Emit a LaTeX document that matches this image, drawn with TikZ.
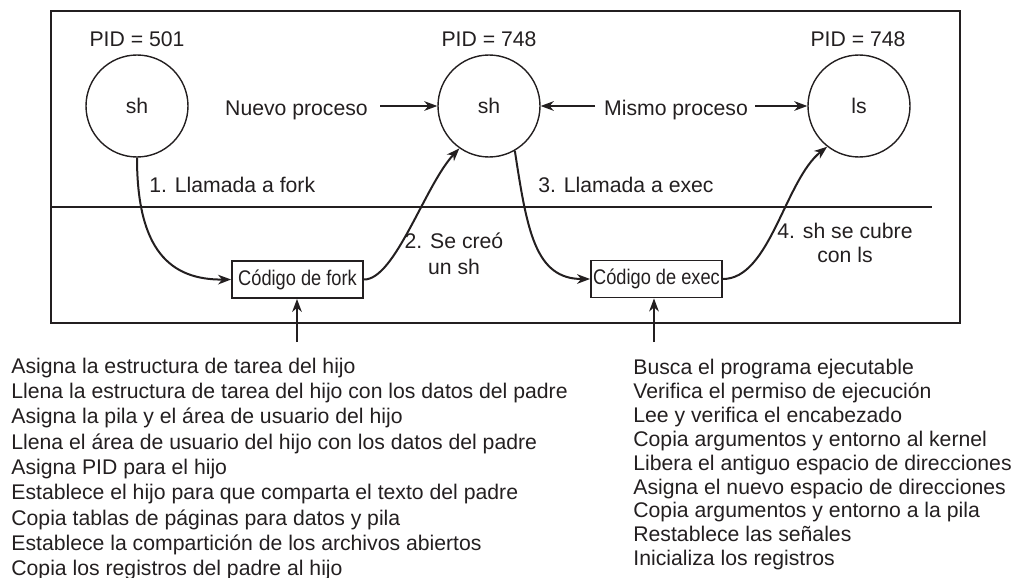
\documentclass[tikz,border=0pt]{standalone}
\usepackage{fontspec}
\setmainfont{Liberation Sans}
\newfontfamily\estrecha[FakeStretch=0.86]{Liberation Sans}
\usetikzlibrary{arrows.meta}

\definecolor{tinta}{RGB}{35,31,32}

\begin{document}
\begin{tikzpicture}[x=0.5pt, y=-0.5pt, color=tinta,
    font=\fontsize{10.6}{13}\selectfont,
    >={Stealth[length=6.5pt,width=4.8pt,inset=2pt]},
    proceso/.style={circle, draw, line width=0.7pt, minimum size=51pt, inner sep=0pt},
    codigo/.style={rectangle, draw, line width=0.9pt, minimum width=65.5pt, minimum height=18.5pt, inner xsep=1pt, font=\estrecha\fontsize{10.6}{13}\selectfont},
    flecha/.style={->, line width=1pt},
    rotulo/.style={inner sep=0pt},
    lista/.style={anchor=north west, align=left, inner sep=0pt}]
  \useasboundingbox (0,0) rectangle (1014,578);

  % Marco y separador usuario / kernel
  \draw[line width=1pt] (51,11) rectangle (960,323);
  \draw[line width=0.7pt] (51,207) -- (932,207);

  % Procesos
  \node[proceso] (sh1) at (137,106) {sh};
  \node[proceso] (sh2) at (489,106) {sh};
  \node[proceso] (ls) at (859,106) {ls};
  \node[rotulo, anchor=base] (pid1) at (137,46.5) {PID = 501};
  \node[rotulo, anchor=base] (pid2) at (489,46.5) {PID = 748};
  \node[rotulo, anchor=base] (pid3) at (858,46.5) {PID = 748};

  % Nuevo / mismo proceso
  \node[rotulo, anchor=base] (nuevo) at (296.5,115.5) {Nuevo proceso};
  \node[rotulo, anchor=base] (mismo) at (676,115.5) {Mismo proceso};
  \coordinate (nuevoflecha) at (380,106);
  \coordinate (mismoizq) at (595,106);
  \coordinate (mismoder) at (755,106);
  \draw[flecha] (nuevoflecha) -- (sh2);
  \draw[flecha] (mismoizq) -- (sh2);
  \draw[flecha] (mismoder) -- (ls);

  % Codigo del kernel
  \node[codigo] (fork) at (297.5,279.5) {Código de fork};
  \node[codigo] (exec) at (656.5,279) {Código de exec};

  % Llamadas
  \draw[flecha] (sh1.south) .. controls (137,250) and (170,280) .. (fork.west);
  \draw[flecha] (fork.east) .. controls (395,280) and (425,185) .. (sh2.-125);
  \draw[flecha] (sh2.-60) .. controls (527,230) and (535,279) .. (exec.west);
  \draw[flecha] (exec.east) .. controls (770,279) and (785,180) .. (ls.-128);

  \node[rotulo, anchor=base west] (llfork) at (149,192.7) {1. Llamada a fork};
  \node[rotulo, anchor=base west] (llexec) at (538,192.7) {3. Llamada a exec};
  \node[rotulo, anchor=north, align=center, font=\fontsize{10.6}{13}\selectfont] (creo) at (454,232.6) {2. Se creó\\un sh};
  \node[rotulo, anchor=north, align=center, font=\fontsize{10.6}{12.3}\selectfont] (cubre) at (845,222.5) {4. sh se cubre\\con ls};

  % Pasos de fork y exec
  \coordinate (forkabajo) at (297,342);
  \coordinate (execabajo) at (654,342);
  \draw[flecha] (forkabajo) -- (forkabajo |- fork.south);
  \draw[flecha] (execabajo) -- (execabajo |- exec.south);

  \node[lista, font=\fontsize{10.6}{12.65}\selectfont] (pasosfork) at (11,357.5) {Asigna la estructura de tarea del hijo\\
    Llena la estructura de tarea del hijo con los datos del padre\\
    Asigna la pila y el área de usuario del hijo\\
    Llena el área de usuario del hijo con los datos del padre\\
    Asigna PID para el hijo\\
    Establece el hijo para que comparta el texto del padre\\
    Copia tablas de páginas para datos y pila\\
    Establece la compartición de los archivos abiertos\\
    Copia los registros del padre al hijo};
  \node[lista, font=\fontsize{10.6}{11.95}\selectfont] (pasosexec) at (633,358.8) {Busca el programa ejecutable\\
    Verifica el permiso de ejecución\\
    Lee y verifica el encabezado\\
    Copia argumentos y entorno al kernel\\
    Libera el antiguo espacio de direcciones\\
    Asigna el nuevo espacio de direcciones\\
    Copia argumentos y entorno a la pila\\
    Restablece las señales\\
    Inicializa los registros};
\end{tikzpicture}
\end{document}
